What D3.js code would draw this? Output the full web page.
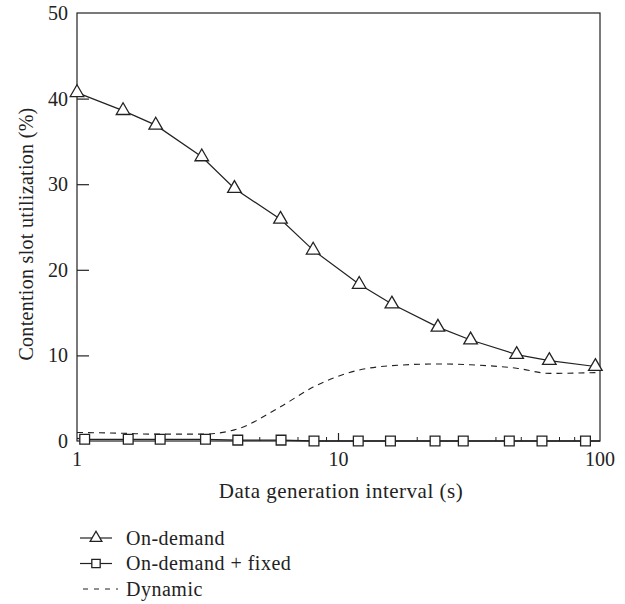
<!DOCTYPE html>
<html>
<head>
<meta charset="utf-8">
<script src="https://cdn.jsdelivr.net/npm/d3@7"></script>
<style>
  body { margin: 0; background: #fff; }
</style>
</head>
<body>
<div id="chart"></div>
<script>
// data
const intervals = [1, 1.5, 2, 3, 4, 6, 8, 12, 16, 24, 32, 48, 64, 96];
const onDemand = [40.7, 38.6, 36.9, 33.2, 29.5, 25.9, 22.3, 18.3, 16.0, 13.3, 11.8, 10.1, 9.4, 8.7];
const fixedX = [1.07, 1.57, 2.08, 3.1, 4.12, 6.03, 8.06, 11.9, 15.8, 23.4, 30, 45, 60, 88];
const onDemandFixed = [0.2, 0.2, 0.2, 0.2, 0.1, 0.1, 0.0, 0.0, 0.0, 0.0, 0.0, 0.0, 0.0, 0.0];
const dynamicX = [1, 1.5, 2, 3, 4, 6, 8, 12, 16, 24, 32, 48, 64, 100];
const dynamic = [1.0, 0.9, 0.8, 0.8, 1.3, 4.0, 6.3, 8.3, 8.8, 9.0, 8.9, 8.5, 7.9, 8.0];
const yTicks = [0, 10, 20, 30, 40, 50];
const xTicks = [1, 10, 100];
const legendNames = ["On-demand", "On-demand + fixed", "Dynamic"];

var width = 625, height = 604;
var m = {left: 77, right: 25, top: 13, bottom: 163};
var font = "Liberation Serif";

var x = d3.scaleLog().domain([1, 100]).range([m.left, width - m.right]);
var y = d3.scaleLinear().domain([0, 50]).range([height - m.bottom, m.top]);

var svg = d3.select("#chart").append("svg")
    .attr("width", width)
    .attr("height", height);

var ink = "#222";

function label(sel, size, spacing) {
  return sel.attr("font-family", font)
      .attr("font-size", size || 20)
      .attr("letter-spacing", spacing || 0)
      .attr("fill", ink);
}

// frame
svg.append("rect")
    .attr("x", m.left).attr("y", m.top)
    .attr("width", x(100) - m.left).attr("height", y(0) - m.top)
    .attr("fill", "none").attr("stroke", ink).attr("stroke-width", 1.2);

// y axis, ticks pointing inward
var yAxis = svg.append("g")
    .attr("transform", "translate(" + m.left + ",0)")
    .call(d3.axisRight(y).tickValues(yTicks.slice(1, 5)).tickSize(12).tickFormat(""));
yAxis.select(".domain").remove();
yAxis.selectAll("line").attr("stroke", ink).attr("stroke-width", 1.2);

svg.selectAll(".ylab").data(yTicks).enter().append("text")
    .attr("x", m.left - 9)
    .attr("y", function(d) { return y(d) + 7; })
    .attr("text-anchor", "end")
    .call(label)
    .text(function(d) { return d; });

// x axis minor ticks (log)
var minor = [];
[1, 10].forEach(function(dec) {
  for (var k = 2; k <= 9; k++) minor.push(dec * k);
});
svg.selectAll(".xminor").data(minor).enter().append("line")
    .attr("x1", function(d) { return x(d); }).attr("x2", function(d) { return x(d); })
    .attr("y1", y(0)).attr("y2", y(0) - 4)
    .attr("stroke", ink).attr("stroke-width", 1);
svg.selectAll(".xmajor").data([10]).enter().append("line")
    .attr("x1", function(d) { return x(d); }).attr("x2", function(d) { return x(d); })
    .attr("y1", y(0)).attr("y2", y(0) - 8)
    .attr("stroke", ink).attr("stroke-width", 1.2);

svg.selectAll(".xlab").data(xTicks).enter().append("text")
    .attr("x", function(d) { return x(d); })
    .attr("y", y(0) + 25)
    .attr("text-anchor", "middle")
    .call(label)
    .text(function(d) { return d; });

// axis titles
svg.append("text")
    .attr("x", 341)
    .attr("y", 498)
    .attr("text-anchor", "middle")
    .call(label, 21, 0.5)
    .text("Data generation interval (s)");

svg.append("text")
    .attr("transform", "translate(33,234)rotate(-90)")
    .attr("text-anchor", "middle")
    .call(label, 20, 0.3)
    .text("Contention slot utilization (%)");

// lines
var line = d3.line()
    .x(function(d) { return x(d[0]); })
    .y(function(d) { return y(d[1]); });

var smooth = d3.line()
    .x(function(d) { return x(d[0]); })
    .y(function(d) { return y(d[1]); })
    .curve(d3.curveMonotoneX);

var plot = svg.append("g");

plot.append("path")
    .datum(d3.zip(dynamicX, dynamic))
    .attr("d", smooth)
    .attr("fill", "none").attr("stroke", ink).attr("stroke-width", 1.1)
    .attr("stroke-dasharray", "6,5");

plot.append("path")
    .datum([[1, 0.3]].concat(d3.zip(fixedX, onDemandFixed)).concat([[100, 0]]))
    .attr("d", line)
    .attr("fill", "none").attr("stroke", ink).attr("stroke-width", 1.3);

plot.append("path")
    .datum(d3.zip(intervals, onDemand))
    .attr("d", line)
    .attr("fill", "none").attr("stroke", ink).attr("stroke-width", 1.2);

var tri = d3.symbol().type(d3.symbolTriangle).size(80);
var sq = d3.symbol().type(d3.symbolSquare).size(95);

plot.selectAll(".tri").data(d3.zip(intervals, onDemand)).enter().append("path")
    .attr("d", tri)
    .attr("transform", function(d) { return "translate(" + x(d[0]) + "," + y(d[1]) + ")"; })
    .attr("fill", "#fff").attr("stroke", ink).attr("stroke-width", 1.3);

plot.selectAll(".sq").data(d3.zip(fixedX, onDemandFixed)).enter().append("path")
    .attr("d", sq)
    .attr("transform", function(d) { return "translate(" + x(d[0]) + "," + y(d[1]) + ")"; })
    .attr("fill", "#fff").attr("stroke", ink).attr("stroke-width", 1.3);

// legend
var lg = svg.append("g").attr("transform", "translate(80,0)");
var rows = [538, 563.5, 589];
var legTri = d3.symbol().type(d3.symbolTriangle).size(60);
var legSq = d3.symbol().type(d3.symbolSquare).size(70);
legendNames.forEach(function(name, i) {
  var g = lg.append("g").attr("transform", "translate(0," + rows[i] + ")");
  var l = g.append("line").attr("x1", 0).attr("x2", i == 2 ? 38 : 32).attr("y1", 0).attr("y2", 0)
      .attr("stroke", ink).attr("stroke-width", 1.2);
  if (i == 2) l.attr("stroke-dasharray", "5,6").attr("x1", 3);
  if (i == 0) g.append("path").attr("d", legTri).attr("transform", "translate(16,0)")
      .attr("fill", "#fff").attr("stroke", ink).attr("stroke-width", 1.3);
  if (i == 1) g.append("path").attr("d", legSq).attr("transform", "translate(16,0)")
      .attr("fill", "#fff").attr("stroke", ink).attr("stroke-width", 1.3);
  g.append("text").attr("x", 46).attr("y", 6.5)
      .call(label, 20, 0.5)
      .text(name);
});
</script>
</body>
</html>
